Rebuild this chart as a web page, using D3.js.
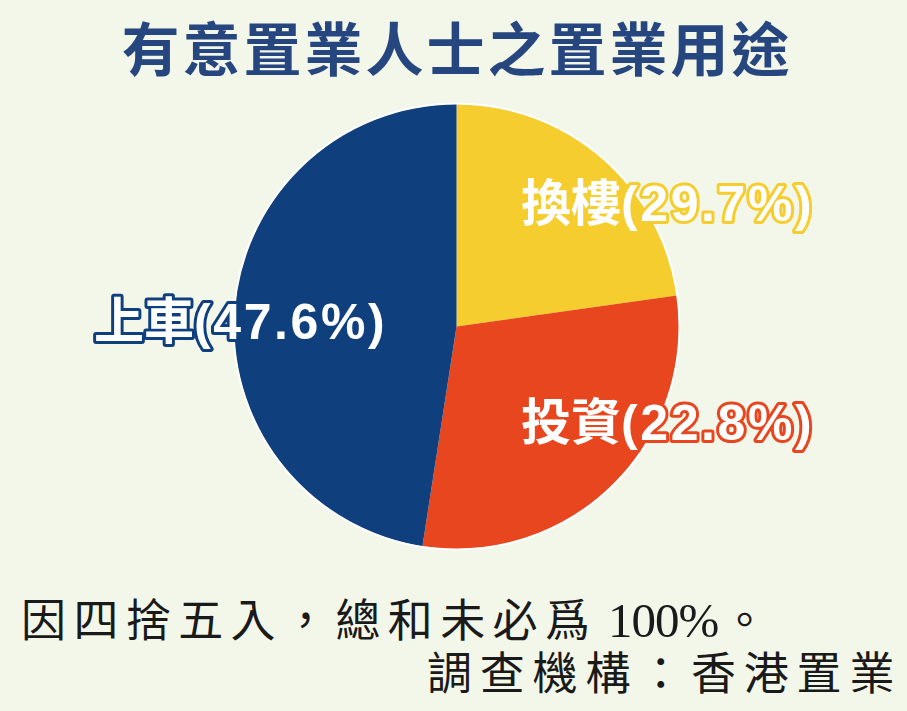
<!DOCTYPE html>
<html><head><meta charset="utf-8">
<script src="https://cdn.jsdelivr.net/npm/d3@7"></script>
<style>
html,body{margin:0;padding:0;background:#f3f7ea;}
svg{display:block;}
</style></head>
<body>
<script>
// ---- data ----
const title = "有意置業人士之置業用途";
const categories = ["換樓", "投資", "上車"];
// slice sizes as drawn in the picture (clockwise from 12 o'clock)
const sliceValues = [22.8, 29.7, 47.6];
// percentages printed in the labels
const labelPercents = ["29.7%", "22.8%", "47.6%"];
const sliceColors = ["#f6cd2e", "#e8461f", "#0f407d"];
const noteLine1 = ["因四捨五入，總和未必爲", "100%", "。"];
const noteLine2 = "調查機構：香港置業";

const W = 907, H = 711;
const svg = d3.select("body").append("svg").attr("width", W).attr("height", H);
svg.append("rect").attr("width", W).attr("height", H).attr("fill", "#f3f7ea");

// title
svg.append("text")
  .attr("x", 457).attr("y", 71)
  .attr("text-anchor", "middle")
  .attr("font-family", "'Noto Sans CJK TC', sans-serif")
  .attr("font-weight", 700)
  .attr("font-size", 58)
  .attr("letter-spacing", 3)
  .attr("fill", "#26467f")
  .text(title);

// pie
const cx = 456.5, cy = 326.5, R = 222.5;
const g = svg.append("g").attr("transform", `translate(${cx},${cy})`);
const pie = d3.pie().sort(null).value(d => d);
const arc = d3.arc().innerRadius(0).outerRadius(R);
const arcs = pie(sliceValues);
g.selectAll("path.slice").data(arcs).join("path")
  .attr("class", "slice")
  .attr("d", arc)
  .attr("fill", (d, i) => sliceColors[i]);
g.append("circle").attr("r", R + 0.5).attr("fill", "none")
  .attr("stroke", "#ffffff").attr("stroke-width", 2);

// labels
const labelPos = [[521, 221], [521, 440], [94, 339]];
const lbl = svg.selectAll("text.lbl").data(categories).join("text")
  .attr("class", "lbl")
  .attr("x", (d, i) => labelPos[i][0])
  .attr("y", (d, i) => labelPos[i][1])
  .attr("font-family", "'Liberation Sans', 'Noto Sans CJK TC', sans-serif")
  .attr("font-weight", 700)
  .attr("font-size", 50)
  .attr("fill", "#ffffff")
  .attr("stroke", (d, i) => sliceColors[i])
  .attr("stroke-width", 6)
  .attr("stroke-linejoin", "round")
  .attr("paint-order", "stroke");
lbl.append("tspan").text(d => d);
lbl.append("tspan").attr("letter-spacing", 2.6).text((d, i) => `(${labelPercents[i]})`);

// footnotes
const n1 = svg.append("text")
  .attr("y", 637)
  .attr("font-family", "'Liberation Serif', 'Noto Sans CJK TC', serif")
  .attr("fill", "#1a1a1a");
n1.append("tspan").attr("x", 21).attr("font-size", 45).attr("letter-spacing", 7.4).text(noteLine1[0]);
n1.append("tspan").attr("x", 608).attr("font-size", 49).attr("letter-spacing", -1).text(noteLine1[1]);
n1.append("tspan").attr("x", 722).attr("font-size", 45).text(noteLine1[2]);

svg.append("text")
  .attr("x", 427).attr("y", 690)
  .attr("font-family", "'Liberation Serif', 'Noto Sans CJK TC', serif")
  .attr("font-size", 45)
  .attr("letter-spacing", 7.8)
  .attr("fill", "#1a1a1a")
  .text(noteLine2);
</script>
</body></html>
